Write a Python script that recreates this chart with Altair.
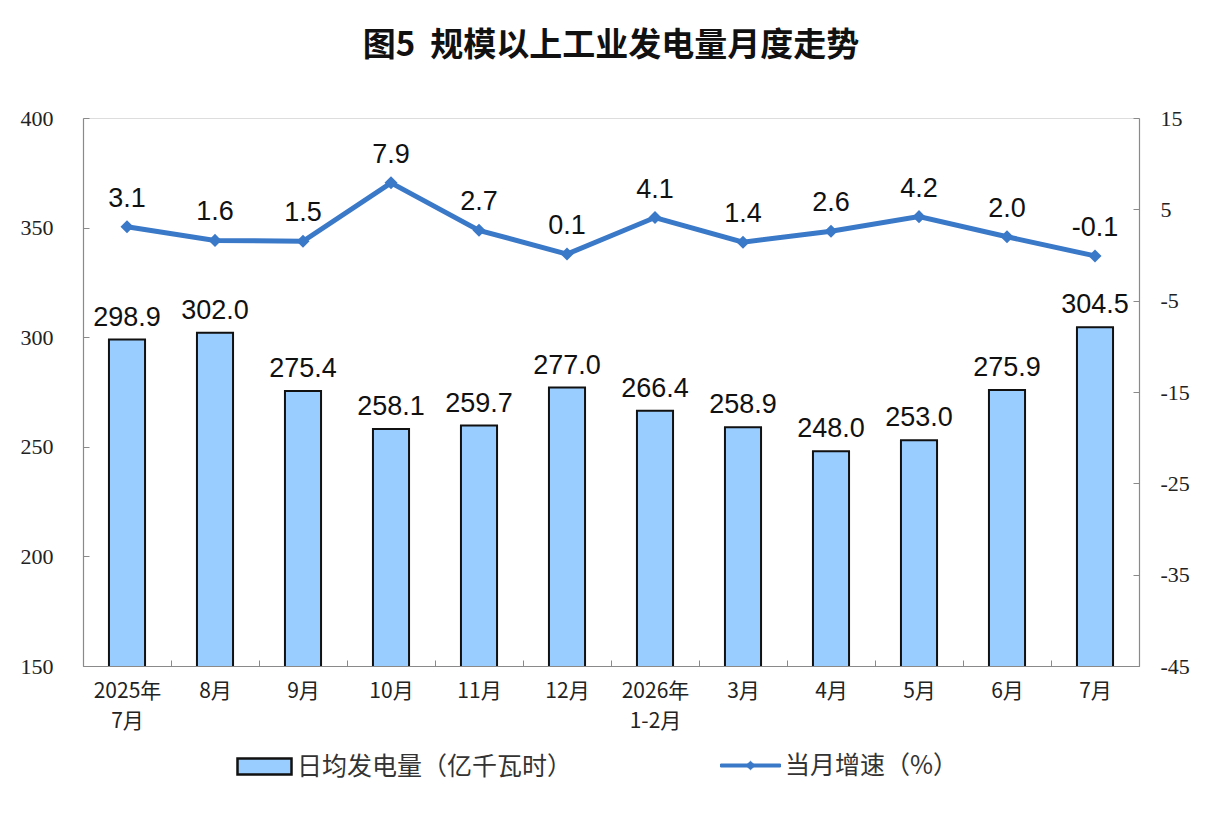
import altair as alt
import pandas as pd

months = ["2025年\n7月", "8月", "9月", "10月", "11月", "12月",
          "2026年\n1-2月", "3月", "4月", "5月", "6月", "7月"]
daily_gen = [298.9, 302.0, 275.4, 258.1, 259.7, 277.0, 266.4, 258.9, 248.0, 253.0, 275.9, 304.5]
yoy = [3.1, 1.6, 1.5, 7.9, 2.7, 0.1, 4.1, 1.4, 2.6, 4.2, 2.0, -0.1]
left_ticks = [150, 200, 250, 300, 350, 400]
right_ticks = [-45, -35, -25, -15, -5, 5, 15]
bar_name = "日均发电量（亿千瓦时）"
line_name = "当月增速（%）"

df = pd.DataFrame({"month": months, "gen": daily_gen, "yoy": yoy,
                   "s1": bar_name, "s2": line_name})

BAR_FILL = "#99CCFF"
LINE_COL = "#3A78C8"
AXIS_COL = "#8a8a8a"
CJK = "Noto Sans CJK SC"
PLOT_W, PLOT_H = 1056, 548

x_enc = alt.X("month:N", sort=months, title=None,
              scale=alt.Scale(paddingInner=0, paddingOuter=0),
              axis=alt.Axis(labelExpr="split(datum.label, '\\n')", labelAngle=0,
                            labelFont=CJK, labelFontSize=21, labelColor="#222",
                            labelLineHeight=30, labelPadding=14, labelOverlap=False,
                            labelLimit=0,
                            ticks=False, tickBand="extent", grid=True,
                            gridDash=[6, 3000], gridDashOffset=3006 - (PLOT_H - 6),
                            gridColor=AXIS_COL, gridWidth=1,
                            domainColor=AXIS_COL, domainWidth=1.2))

base = alt.Chart(df).encode(x=x_enc)

bars = base.mark_bar(stroke="#111", strokeWidth=2, clip=True,
                     width=alt.RelativeBandSize(0.41)).encode(
    y=alt.Y("gen:Q", title=None,
            scale=alt.Scale(domain=[150, 400], nice=False, zero=False),
            axis=alt.Axis(values=left_ticks, orient="left", ticks=False,
                          labelFont="Liberation Serif", labelFontSize=22, labelColor="#222",
                          labelPadding=30, grid=True, gridDash=[6, 3000],
                          gridColor=AXIS_COL, domainColor=AXIS_COL, domainWidth=1.2)),
    fill=alt.Fill("s1:N", scale=alt.Scale(range=[BAR_FILL]),
                  legend=alt.Legend(title=None, orient="none", legendX=153, legendY=620,
                                    padding=0, labelLimit=0,
                                    symbolType="M-1,-0.3H1V0.3H-1Z", symbolSize=2916,
                                    symbolStrokeColor="#111", symbolStrokeWidth=2.5,
                                    labelFont=CJK, labelFontSize=25, labelColor="#333",
                                    labelOffset=4)),
)

bar_text = base.mark_text(dy=-22, font="Liberation Sans", fontSize=27, color="#111").encode(
    y=alt.Y("gen:Q"),
    text=alt.Text("gen:Q", format=".1f"),
)

line = base.mark_line(strokeWidth=5).encode(
    y=alt.Y("yoy:Q", title=None,
            scale=alt.Scale(domain=[-45, 15], nice=False, zero=False),
            axis=alt.Axis(values=right_ticks, orient="right", ticks=False,
                          labelExpr="replace(datum.label, '\u2212', '-')",
                          labelFont="Liberation Serif", labelFontSize=22, labelColor="#222",
                          labelPadding=21, grid=True, gridDash=[6, 3000],
                          gridColor=AXIS_COL, domainColor=AXIS_COL, domainWidth=1.2)),
    stroke=alt.Stroke("s2:N", scale=alt.Scale(range=[LINE_COL]),
                      legend=alt.Legend(title=None, orient="none", legendX=637, legendY=617,
                                        padding=0, labelLimit=0,
                                        symbolType="M-1,-0.05H1V0.05H-1Z M-0.15,0L0,-0.14L0.15,0L0,0.14Z",
                                        symbolSize=3600, symbolFillColor=LINE_COL,
                                        symbolStrokeWidth=1,
                                        labelFont=CJK, labelFontSize=25, labelColor="#333",
                                        labelOffset=4)),
)

points = base.mark_point(shape="diamond", filled=True, size=170, color=LINE_COL, opacity=1).encode(
    y=alt.Y("yoy:Q"),
)

line_text = base.transform_calculate(
    lbl="replace(format(datum.yoy, '.1f'), '\u2212', '-')"
).mark_text(dy=-28, font="Liberation Sans", fontSize=27, color="#111").encode(
    y=alt.Y("yoy:Q"),
    text=alt.Text("lbl:N"),
)

left_layer = alt.layer(bars, bar_text)
right_layer = alt.layer(line, points, line_text)

chart = alt.layer(left_layer, right_layer).resolve_scale(
    y="independent", fill="independent", stroke="independent"
).properties(
    width=PLOT_W, height=PLOT_H,
    autosize=alt.AutoSizeParams(type="none"),
    padding={"left": 75, "top": 110, "right": 73, "bottom": 150},
    title=alt.Title("图5\u00a0\u00a0规模以上工业发电量月度走势", font=CJK, fontSize=33,
                    fontWeight="bold", color="#111", anchor="middle", offset=44),
).configure_view(stroke=None).configure(background="white")

chart.save("out.html", embed_options={"renderer": "svg", "actions": False})
